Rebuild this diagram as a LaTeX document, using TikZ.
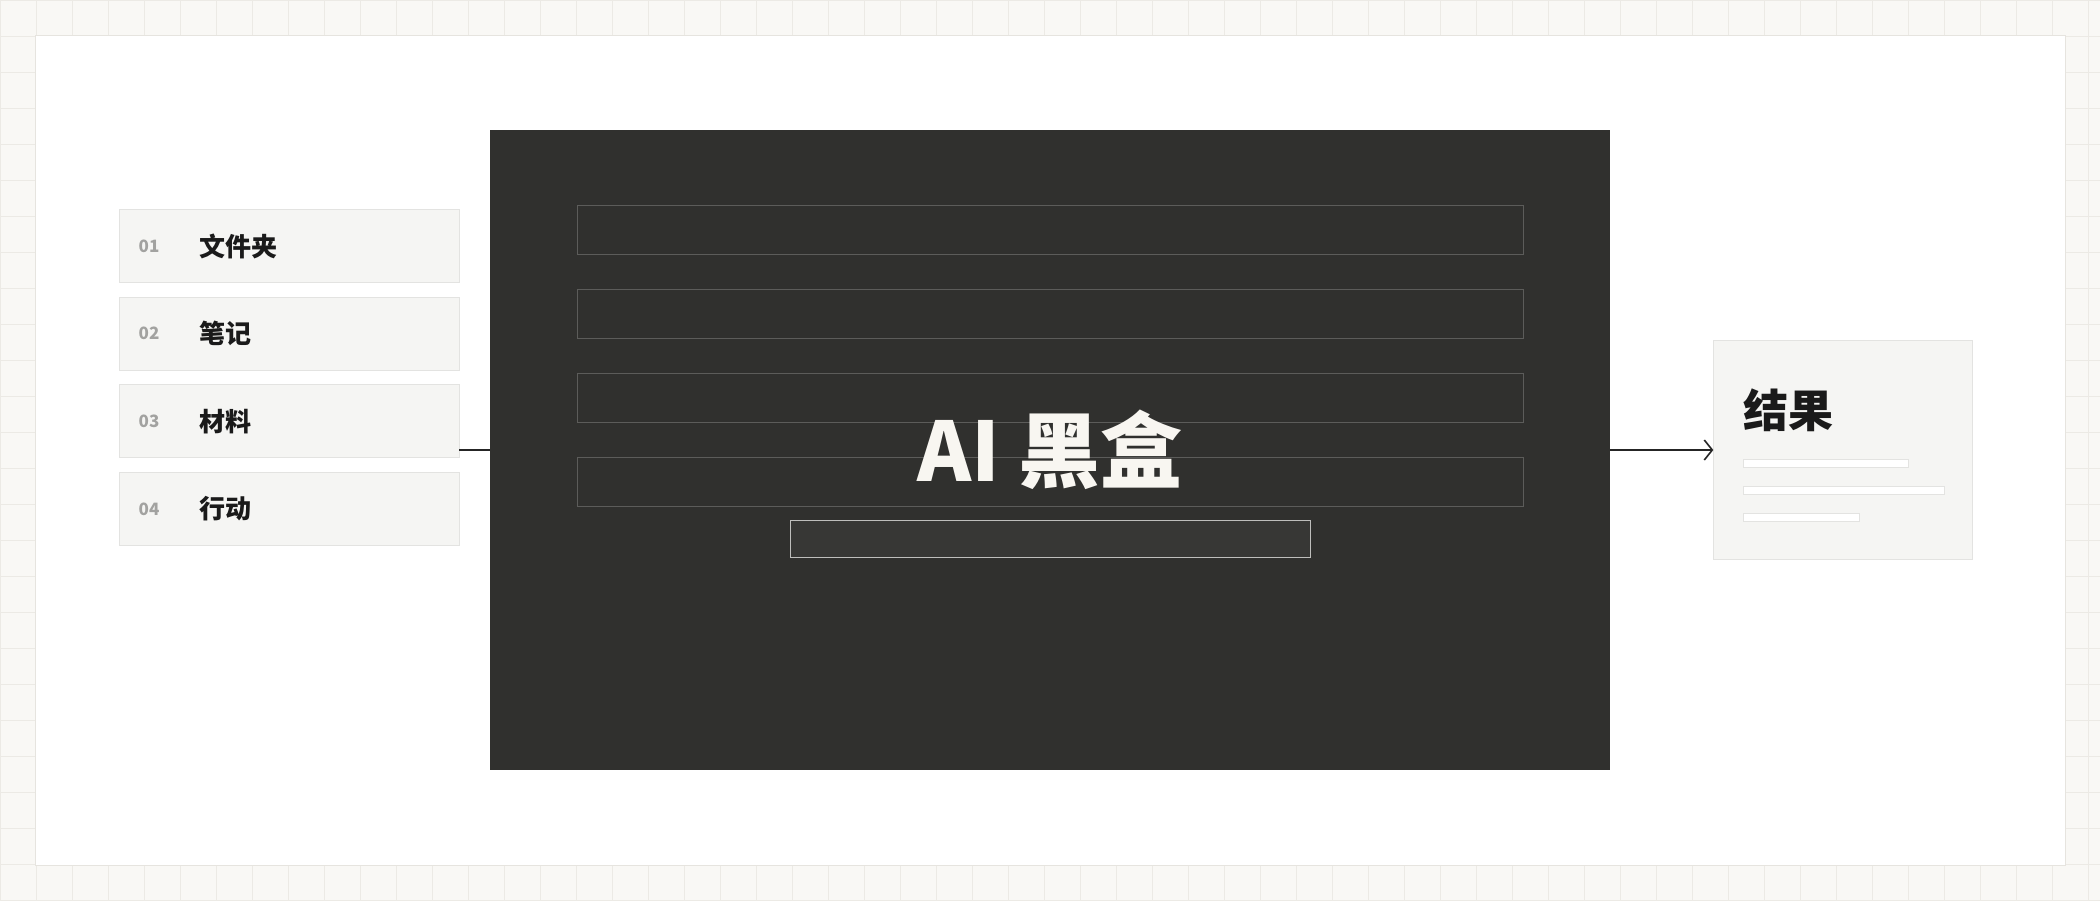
\documentclass[tikz,border=0pt]{standalone}
\usepackage{fontspec}
\setmainfont{Noto Sans CJK SC}
\usetikzlibrary{arrows.meta,positioning}

\definecolor{paper}{HTML}{F9F8F5}
\definecolor{gridc}{HTML}{ECEAE5}
\definecolor{panelc}{HTML}{E6E4DF}
\definecolor{boxfill}{HTML}{F5F5F3}
\definecolor{boxline}{HTML}{E3E3E1}
\definecolor{ink}{HTML}{1A1A1A}
\definecolor{dark}{HTML}{30302E}
\definecolor{rowline}{HTML}{5C5C5A}
\definecolor{fieldline}{HTML}{BEBEBC}
\definecolor{fieldfill}{HTML}{373735}
\definecolor{light}{HTML}{F8F6F1}
\definecolor{numc}{HTML}{A2A2A0}

\begin{document}
\begin{tikzpicture}[x=1pt,y=-1pt,line width=1pt,
            >={Straight Barb[length=8pt,width=20pt]},
            item/.style={draw=boxline,fill=boxfill,minimum width=340pt,
              minimum height=73pt,inner sep=0pt,outer sep=0pt},
            num/.style={inner sep=0pt,text=numc,font=\bfseries\fontsize{17}{17}\selectfont},
            word/.style={inner sep=0pt,text=ink,font=\bfseries\fontsize{26}{26}\selectfont},
            row/.style={draw=rowline,minimum width=946pt,minimum height=49pt,
              inner sep=0pt,outer sep=0pt},
            bar/.style={draw=boxline,fill=white,minimum height=8pt,inner sep=0pt,anchor=west},
            conn/.style={draw=ink!95,line width=1.6pt},
            node distance=14.7pt]
  \useasboundingbox (0,0) rectangle (2100,900);
  \fill[paper] (0,0) rectangle (2100,900);
  \draw[gridc,step=36pt] (0,0) grid (2100,900);
  \draw[panelc,fill=white] (35,35) rectangle (2065,865);

  % inputs
  \node[item] (F1) at (289.2,246) {};
  \node[item] (F2) [below=of F1] {};
  \node[item] (F3) [below=of F2] {};
  \node[item] (F4) [below=of F3] {};
  \node[num]  (N1) [right=19pt of F1.west] {01};
  \node[num]  (N2) [right=19pt of F2.west] {02};
  \node[num]  (N3) [right=19pt of F3.west] {03};
  \node[num]  (N4) [right=19pt of F4.west] {04};
  \node[word] (W1) [right=80pt of F1.west] {文件夹};
  \node[word] (W2) [right=80pt of F2.west] {笔记};
  \node[word] (W3) [right=80pt of F3.west] {材料};
  \node[word] (W4) [right=80pt of F4.west] {行动};

  % black box
  \node[fill=dark,minimum width=1120pt,minimum height=640pt,outer sep=0pt] (B) at (1050,450) {};
  \node[row] (R1) [below=75.3pt of B.north] {};
  \node[row] (R2) [below=35pt of R1] {};
  \node[row] (R3) [below=35pt of R2] {};
  \node[row] (R4) [below=35pt of R3] {};
  \node[draw=fieldline,fill=fieldfill,minimum width=520pt,minimum height=37pt,
        inner sep=0pt] (Q) [below=13.6pt of R4] {};
  \node[text=light,font=\bfseries\fontsize{82}{82}\selectfont] (T) at (B) {AI 黑盒};

  % result
  \node[draw=boxline,fill=boxfill,minimum width=259.4pt,minimum height=218.6pt,
        outer sep=0pt] (O) [right=103.3pt of B] {};
  \node[word,font=\bfseries\fontsize{45}{45}\selectfont,anchor=west] (OT)
        at ([xshift=30pt,yshift=40pt]O.west) {结果};
  \node[bar,minimum width=164.7pt] (O1) at ([xshift=30pt,yshift=-13.3pt]O.west) {};
  \node[bar,minimum width=200.3pt] (O2) at ([xshift=30pt,yshift=-40.7pt]O.west) {};
  \node[bar,minimum width=115.7pt] (O3) at ([xshift=30pt,yshift=-67.3pt]O.west) {};

  \coordinate (L) at (F3.east |- B.west);
  \path[conn]     (L) edge (B);
  \path[conn,->]  (B) edge (O);
\end{tikzpicture}
\end{document}
